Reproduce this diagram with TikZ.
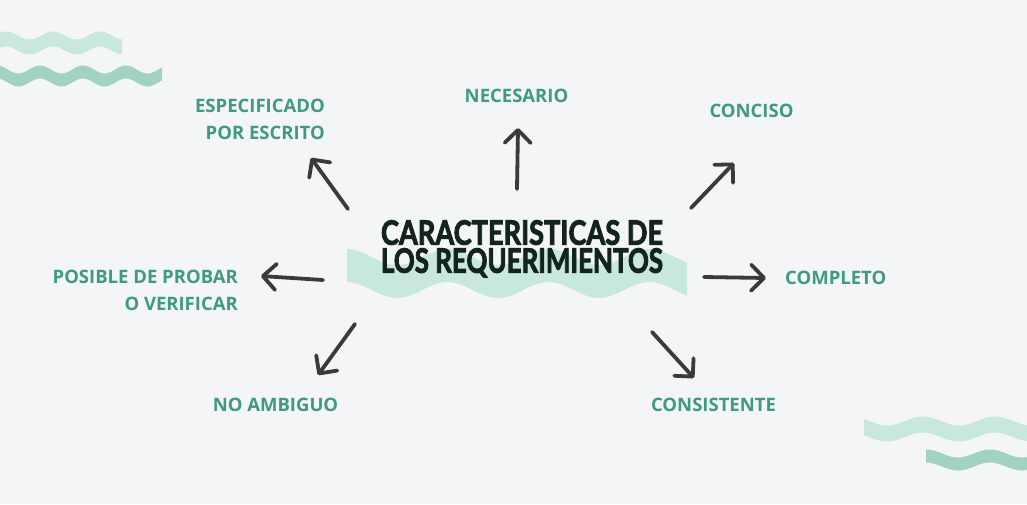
\documentclass[tikz,border=0pt]{standalone}
\usepackage{fontspec}
\usepackage{graphicx}
\setmainfont{Open Sans}
\newfontfamily\titlefont{Lato}[BoldFeatures={FakeBold=3}]
\usetikzlibrary{arrows.meta}
\definecolor{bgc}{HTML}{F4F5F7}
\definecolor{wlight}{HTML}{C8E7DF}
\definecolor{wdark}{HTML}{A2D2C3}
\definecolor{lab}{HTML}{3F9A82}
\definecolor{arrc}{HTML}{3A3A36}
\definecolor{ttl}{HTML}{13241E}
\newcommand\wavyband[8]{%
  \fill[#8] plot[domain=#1:#2,samples=90,smooth] (\x,{#3-#7/2+#4*cos((360/#5)*(\x-#6))})
    -- plot[domain=#2:#1,samples=90,smooth] (\x,{#3+#7/2+#4*cos((360/#5)*(\x-#6))}) -- cycle;}
\begin{document}
\begin{tikzpicture}[x=1pt,y=-1pt,
  lbl/.style={text=lab, font=\fontsize{18.5}{27}\selectfont\bfseries, inner sep=0pt},
  ttlnode/.style={text=ttl, font=\titlefont\fontsize{33.5}{28}\selectfont\bfseries, inner sep=0pt, align=center},
  conn/.style={draw=arrc, line width=3.8pt, line cap=round, line join=round,
    -{Straight Barb[length=13pt,width=26pt,round]}}]
\useasboundingbox (0,0) rectangle (1027,504);
\fill[bgc] (0,0) rectangle (1027,504);
% decorative waves
\wavyband{0}{122}{43}{4}{47}{76.5}{15}{wlight}
\wavyband{0}{162}{76}{4}{43}{61.5}{13}{wdark}
\wavyband{864}{1027}{429}{4.5}{72}{959}{16}{wlight}
\wavyband{926}{1027}{460}{4}{64}{958}{13}{wdark}
% band behind title
\wavyband{347}{687}{273.5}{8}{101}{397}{33}{wlight}
% title
\node[ttlnode, anchor=north] (title) at (522,220)
  {\resizebox{282pt}{\height}{CARACTERISTICAS DE}\\\resizebox{282pt}{\height}{LOS REQUERIMIENTOS}};
% labels
\node[lbl, align=right, anchor=east] (spec) at (325,119.5) {ESPECIFICADO\\POR ESCRITO};
\node[lbl] (nec) at (516.5,96) {NECESARIO};
\node[lbl] (conc) at (751.5,111) {CONCISO};
\node[lbl, align=right, anchor=east] (pos) at (238,290) {POSIBLE DE PROBAR\\O VERIFICAR};
\node[lbl, anchor=west] (comp) at (785,278) {COMPLETO};
\node[lbl] (noamb) at (275.5,405) {NO AMBIGUO};
\node[lbl] (cons) at (713.5,405) {CONSISTENTE};
% arrow ends
\coordinate (t1) at (348,209); \coordinate (h1) at (311,158);
\coordinate (t2) at (517,189); \coordinate (h2) at (518,128);
\coordinate (t3) at (691,208); \coordinate (h3) at (734,163);
\coordinate (t4) at (323,280); \coordinate (h4) at (261,276);
\coordinate (t5) at (704,277); \coordinate (h5) at (766,278);
\coordinate (t6) at (355,324); \coordinate (h6) at (318,375);
\coordinate (t7) at (652,332); \coordinate (h7) at (694,378);
\draw[conn] (t1) -- (h1);
\draw[conn] (t2) -- (h2);
\draw[conn] (t3) -- (h3);
\draw[conn] (t4) -- (h4);
\draw[conn] (t5) -- (h5);
\draw[conn] (t6) -- (h6);
\draw[conn] (t7) -- (h7);
\end{tikzpicture}
\end{document}
